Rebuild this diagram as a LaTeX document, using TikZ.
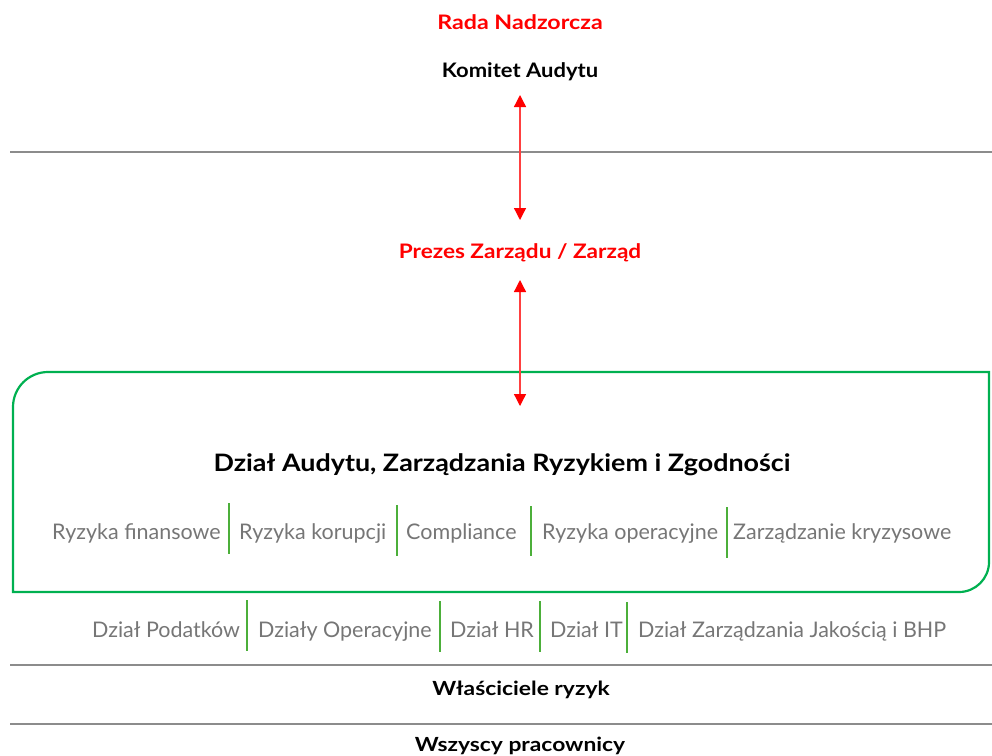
\documentclass[tikz,border=0pt]{standalone}
\usepackage{fontspec}
\setmainfont{Lato}
\newfontfamily\radafont[FakeStretch=1.16]{Lato}
\newfontfamily\komfont[FakeStretch=1.10]{Lato}
\newfontfamily\prezfont[FakeStretch=1.13]{Lato}
\newfontfamily\titlefont[FakeStretch=1.12]{Lato}
\newfontfamily\lowfont[FakeStretch=1.17]{Lato}
\usetikzlibrary{arrows.meta}
\definecolor{boxgreen}{HTML}{00B050}
\definecolor{sepgreen}{HTML}{4CAF3A}
\definecolor{rulegrey}{HTML}{8C8C8C}
\definecolor{txtgrey}{HTML}{767676}
\tikzset{
  headtext/.style={font=\fontsize{20}{24}\selectfont\bfseries, inner sep=0pt},
  title/.style={font=\titlefont\fontsize{24}{28}\selectfont\bfseries, text=black, inner sep=0pt},
  item/.style={font=\fontsize{21.5}{25}\selectfont, text=txtgrey, inner sep=0pt, anchor=base west},
  lowhead/.style={font=\lowfont\fontsize{19.5}{23}\selectfont\bfseries, text=black, inner sep=0pt},
  sepline/.style={draw=sepgreen, line width=2pt},
  hrule/.style={draw=rulegrey, line width=1.2pt},
  link/.style={draw=red!75, line width=1.3pt, {Triangle[width=12pt,length=12pt,fill=red,color=red]}-{Triangle[width=12pt,length=12pt,fill=red,color=red]}},
}
\begin{document}
\begin{tikzpicture}[x=1pt,y=-1pt]
\useasboundingbox (0,0) rectangle (992,755);
% headings
\node[headtext, text=red] (rada) at (520,22) {\radafont Rada Nadzorcza};
\node[headtext, text=black] (komitet) at (520,72) {\komfont Komitet Audytu};
\node[headtext, text=red] (prezes) at (520,253) {\prezfont Prezes Zarządu / Zarząd};
% rules
\draw[hrule] (10,152) -- (992,152);
\draw[hrule] (10,665) -- (992,665);
\draw[hrule] (10,724) -- (992,724);
% green box
\draw[draw=boxgreen, line width=2.2pt] (13,592) -- (13,407) arc[start angle=180,end angle=270,radius=35] -- (989,372) -- (989,562) arc[start angle=0,end angle=90,radius=30] -- cycle;
\node[title] (dzial) at (502,465) {Dział Audytu, Zarządzania Ryzykiem i Zgodności};
\coordinate (kom-in) at (520,95);
\coordinate (prez-up) at (520,220);
\coordinate (prez-down) at (520,280);
\coordinate (boxin) at (520,406);
% arrows
\draw[link] (kom-in) -- (prez-up);
\draw[link] (prez-down) -- (boxin);
% first row
\node[item] (r1) at (52,539) {Ryzyka finansowe};
\node[item] (r2) at (239,539) {Ryzyka korupcji};
\node[item] (r3) at (406,539) {Compliance};
\node[item] (r4) at (542,539) {Ryzyka operacyjne};
\node[item] (r5) at (733,539) {Zarządzanie kryzysowe};
\draw[sepline] (229,503) -- (229,554);
\draw[sepline] (397,505) -- (397,556);
\draw[sepline] (531,506) -- (531,556);
\draw[sepline] (727,507) -- (727,558);
% second row
\node[item] (d1) at (92,637) {Dział Podatków};
\node[item] (d2) at (258,637) {Działy Operacyjne};
\node[item] (d3) at (450,637) {Dział HR};
\node[item] (d4) at (550,637) {Dział IT};
\node[item] (d5) at (638,637) {Dział Zarządzania Jakością i BHP};
\draw[sepline] (247,600) -- (247,651);
\draw[sepline] (440,601) -- (440,652);
\draw[sepline] (540,601) -- (540,652);
\draw[sepline] (627,602) -- (627,653);
% bottom labels
\node[lowhead] (wlasc) at (521,690) {Właściciele ryzyk};
\node[lowhead] (wszyscy) at (520,746) {Wszyscy pracownicy};
\end{tikzpicture}
\end{document}
